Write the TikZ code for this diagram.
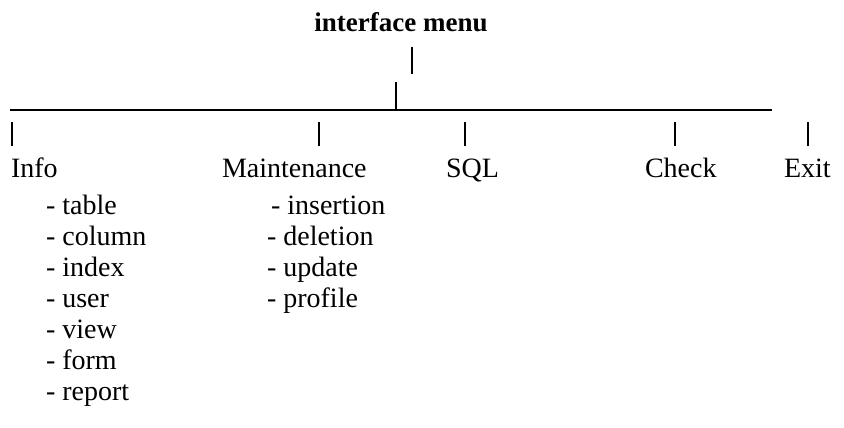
\documentclass[tikz,border=0pt]{standalone}
\usepackage{fontspec}
\setmainfont{Liberation Serif}
\begin{document}
\begin{tikzpicture}[x=1pt,y=-1pt,
  lbl/.style={inner sep=0pt, outer sep=0pt, anchor=base west, font=\fontsize{28}{30}\selectfont},
  ttl/.style={inner sep=0pt, outer sep=0pt, anchor=base, font=\fontsize{27}{29}\selectfont\bfseries},
  tick/.style={line width=1.4pt},
  bar/.style={line width=1.8pt}]
\useasboundingbox (0,0) rectangle (844,428);
% title
\node[ttl] (title) at (401,32) {interface menu};
\coordinate (t1a) at (412,47); \coordinate (t1b) at (412,74);
\coordinate (t2a) at (396,82); \coordinate (t2b) at (396,110);
\coordinate (barL) at (10,110); \coordinate (barR) at (772,110);
\draw[tick] (t1a) -- (t1b);
\draw[tick] (t2a) -- (t2b);
\draw[bar] (barL) -- (barR);
% menu ticks
\foreach \n/\x in {info/12, maint/319, sql/465, check/675, exit/808}{
  \coordinate (\n a) at (\x,122); \coordinate (\n b) at (\x,146);
  \draw[tick] (\n a) -- (\n b);
}
% menu labels
\node[lbl] (info) at (11,177) {Info};
\node[lbl] (maint) at (222,177) {Maintenance};
\node[lbl] (sql) at (446,177) {SQL};
\node[lbl] (check) at (645,177) {Check};
\node[lbl] (exit) at (784,177) {Exit};
% Info items
\node[lbl] (i1) at (46,214) {- table};
\node[lbl] (i2) at (46,245) {- column};
\node[lbl] (i3) at (46,276) {- index};
\node[lbl] (i4) at (46,307) {- user};
\node[lbl] (i5) at (46,338) {- view};
\node[lbl] (i6) at (46,369) {- form};
\node[lbl] (i7) at (46,400) {- report};
% Maintenance items
\node[lbl] (m1) at (271,214) {- insertion};
\node[lbl] (m2) at (267,245) {- deletion};
\node[lbl] (m3) at (267,276) {- update};
\node[lbl] (m4) at (267,307) {- profile};
\end{tikzpicture}
\end{document}
